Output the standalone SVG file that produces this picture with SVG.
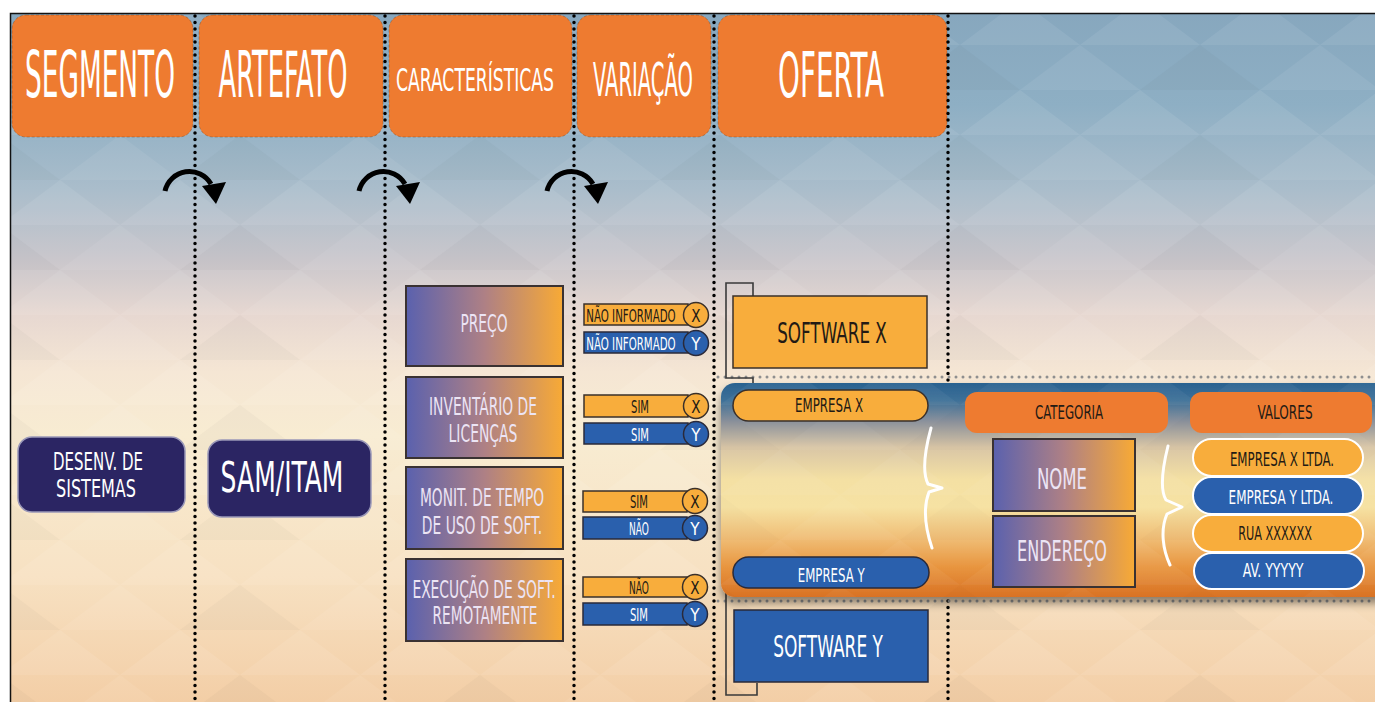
<svg xmlns="http://www.w3.org/2000/svg" width="1375" height="702" viewBox="0 0 1375 702">
  <defs>
    <linearGradient id="bg" x1="0" y1="0" x2="0" y2="702" gradientUnits="userSpaceOnUse">
      <stop offset="0" stop-color="#86a6bd"/>
      <stop offset="0.15" stop-color="#8eafc4"/>
      <stop offset="0.27" stop-color="#aabdcb"/>
      <stop offset="0.37" stop-color="#cac7cc"/>
      <stop offset="0.45" stop-color="#e7d8d1"/>
      <stop offset="0.53" stop-color="#f5e6d4"/>
      <stop offset="0.62" stop-color="#f8ecd2"/>
      <stop offset="0.82" stop-color="#f7e1c2"/>
      <stop offset="1" stop-color="#f3cea6"/>
    </linearGradient>
    <linearGradient id="panelGrad" x1="0" y1="383" x2="0" y2="597" gradientUnits="userSpaceOnUse">
      <stop offset="0" stop-color="#2a6290"/>
      <stop offset="0.08" stop-color="#3d7098"/>
      <stop offset="0.18" stop-color="#8c929c"/>
      <stop offset="0.3" stop-color="#d9c6a6"/>
      <stop offset="0.45" stop-color="#f4e0a3"/>
      <stop offset="0.58" stop-color="#f6e2a3"/>
      <stop offset="0.72" stop-color="#f0bf78"/>
      <stop offset="0.86" stop-color="#e8953f"/>
      <stop offset="1" stop-color="#d97224"/>
    </linearGradient>
    <linearGradient id="feat" x1="0" y1="0" x2="1" y2="0">
      <stop offset="0" stop-color="#5a61ae"/>
      <stop offset="0.5" stop-color="#ae8085"/>
      <stop offset="1" stop-color="#f8aa35"/>
    </linearGradient>
    <pattern id="tri" width="240" height="90" patternUnits="userSpaceOnUse">
      <path d="M0,45 L60,0 L120,45 Z M120,45 L180,0 L240,45 Z" fill="#ffffff" opacity="0.07"/>
      <path d="M60,90 L120,45 L180,90 Z" fill="#ffffff" opacity="0.06"/>
      <path d="M0,90 L0,45 L60,90 Z M240,45 L240,90 L180,90 Z" fill="#000000" opacity="0.025"/>
    </pattern>
    <filter id="shadow" x="-5%" y="-10%" width="110%" height="130%">
      <feDropShadow dx="0" dy="6" stdDeviation="5" flood-color="#000" flood-opacity="0.45"/>
    </filter>
    <g id="turn">
      <path d="M165,191 A25,25 0 0 1 211,184" fill="none" stroke="#000" stroke-width="5"/>
      <polygon points="202,186 226,182 216,204" fill="#000"/>
    </g>
    <style>
      .t { font-family: "DejaVu Sans Condensed", "DejaVu Sans", "Liberation Sans", sans-serif; text-anchor: middle;
           transform-box: fill-box; transform-origin: center; transform: scaleX(0.62); }
      .hdr { fill: #ee7b30; stroke: #6a3a18; stroke-width: 1; stroke-dasharray: 3 2; stroke-opacity: 0.35; }
      .htxt { fill: #ffffff; }
      .navy { fill: #2b2563; stroke: #9a98b8; stroke-width: 1.5; }
      .feat { fill: url(#feat); stroke: #3a3232; stroke-width: 2; }
      .ftxt { fill: #ece4f4; }
      .or { fill: #f8ad3c; stroke: #3a302a; stroke-width: 1.5; }
      .bl { fill: #2a60ad; stroke: #2a2a3a; stroke-width: 1.5; }
      .dk { fill: #231a14; }
      .wt { fill: #ffffff; }
      .vdots { stroke: #000; stroke-width: 3.5; stroke-linecap: round; stroke-dasharray: 0 6.5; fill: none; }
      .hdots { stroke: #8f8f8f; stroke-width: 3; stroke-linecap: round; stroke-dasharray: 0 7; fill: none; }
      .bracket { fill: none; stroke: #3a3a3a; stroke-width: 1.6; }
      .brace { fill: none; stroke: #ffffff; stroke-width: 3; stroke-linecap: round; stroke-linejoin: round; }
      .vorange { fill: #f8ad3c; stroke: #ffffff; stroke-width: 2; }
      .vblue { fill: #2a60ad; stroke: #ffffff; stroke-width: 2; }
    </style>
  </defs>

  <!-- background -->
  <rect x="0" y="0" width="1375" height="702" fill="#ffffff"/>
  <rect x="10" y="13" width="1365" height="689" fill="url(#bg)"/>
  <rect x="10" y="13" width="1365" height="689" fill="url(#tri)"/>
  <path d="M10.5,702 V13.5 H1375" fill="none" stroke="#111" stroke-width="1.5"/>

  <!-- column headers -->
  <g id="h-segmento">
    <rect class="hdr" x="12" y="15" width="181" height="122" rx="14"/>
    <text class="t htxt" x="100" y="97" font-size="64" textLength="242" lengthAdjust="spacingAndGlyphs">SEGMENTO</text>
  </g>
  <g id="h-artefato">
    <rect class="hdr" x="199" y="15" width="184" height="122" rx="14"/>
    <text class="t htxt" x="283" y="97" font-size="64" textLength="208" lengthAdjust="spacingAndGlyphs">ARTEFATO</text>
  </g>
  <g id="h-caracteristicas">
    <rect class="hdr" x="389" y="15" width="183" height="122" rx="14"/>
    <text class="t htxt" x="475" y="91" font-size="32" textLength="255" lengthAdjust="spacingAndGlyphs">CARACTERÍSTICAS</text>
  </g>
  <g id="h-variacao">
    <rect class="hdr" x="577" y="15" width="134" height="122" rx="14"/>
    <text class="t htxt" x="643" y="96" font-size="46" textLength="161" lengthAdjust="spacingAndGlyphs">VARIAÇÃO</text>
  </g>
  <g id="h-oferta">
    <rect class="hdr" x="718" y="15" width="229" height="122" rx="14"/>
    <text class="t htxt" x="831" y="97" font-size="62" textLength="171" lengthAdjust="spacingAndGlyphs">OFERTA</text>
  </g>

  <!-- column separators and flow arrows -->
  <g id="connectors">
    <line class="vdots" x1="195" y1="16" x2="195" y2="702"/>
    <line class="vdots" x1="385" y1="16" x2="385" y2="702"/>
    <line class="vdots" x1="574" y1="16" x2="574" y2="702"/>
    <line class="vdots" x1="714" y1="16" x2="714" y2="702"/>
    <line class="vdots" x1="948" y1="16" x2="948" y2="702"/>
    <line class="hdots" x1="718" y1="377" x2="1375" y2="377"/>
    <line class="hdots" x1="718" y1="601" x2="1375" y2="601"/>
    <use href="#turn"/>
    <use href="#turn" transform="translate(194,0)"/>
    <use href="#turn" transform="translate(382,0)"/>
    <!-- brackets linking software boxes to company pills -->
    <path class="bracket" d="M753,296 V283 H726 V378 H753 V384"/>
    <path class="bracket" d="M757,588 V591 H726 V695 H757 V683"/>
  </g>

  <!-- segment and artifact -->
  <g id="n-desenv">
    <rect class="navy" x="18" y="437" width="167" height="75" rx="14"/>
    <text class="t wt" x="98" y="470" font-size="25" textLength="145" lengthAdjust="spacingAndGlyphs">DESENV. DE</text>
    <text class="t wt" x="96" y="497" font-size="25" textLength="129" lengthAdjust="spacingAndGlyphs">SISTEMAS</text>
  </g>
  <g id="n-sam">
    <rect class="navy" x="208" y="440" width="163" height="77" rx="14"/>
    <text class="t wt" x="282" y="492" font-size="42" textLength="198" lengthAdjust="spacingAndGlyphs">SAM/ITAM</text>
  </g>

  <!-- characteristics -->
  <g id="c-preco">
    <rect class="feat" x="406" y="286" width="157" height="80"/>
    <text class="t ftxt" x="484" y="332" font-size="24" textLength="76" lengthAdjust="spacingAndGlyphs">PREÇO</text>
  </g>
  <g id="c-inventario">
    <rect class="feat" x="406" y="377" width="157" height="81"/>
    <text class="t ftxt" x="483" y="415" font-size="24" textLength="174" lengthAdjust="spacingAndGlyphs">INVENTÁRIO DE</text>
    <text class="t ftxt" x="483" y="442" font-size="24" textLength="111" lengthAdjust="spacingAndGlyphs">LICENÇAS</text>
  </g>
  <g id="c-monit">
    <rect class="feat" x="406" y="467" width="157" height="82"/>
    <text class="t ftxt" x="482" y="506" font-size="25" textLength="200" lengthAdjust="spacingAndGlyphs">MONIT. DE TEMPO</text>
    <text class="t ftxt" x="482" y="534" font-size="25" textLength="194" lengthAdjust="spacingAndGlyphs">DE USO DE SOFT.</text>
  </g>
  <g id="c-execucao">
    <rect class="feat" x="406" y="559" width="157" height="82"/>
    <text class="t ftxt" x="484" y="598" font-size="25" textLength="231" lengthAdjust="spacingAndGlyphs">EXECUÇÃO DE SOFT.</text>
    <text class="t ftxt" x="485" y="624" font-size="25" textLength="169" lengthAdjust="spacingAndGlyphs">REMOTAMENTE</text>
  </g>

  <!-- variations -->
  <g id="v-preco-x">
    <rect class="or" x="584" y="304" width="104" height="21"/>
    <circle class="or" cx="696" cy="315" r="12.5"/>
    <text class="t dk" x="631" y="322" font-size="17" textLength="144" lengthAdjust="spacingAndGlyphs">NÃO INFORMADO</text>
    <text class="t dk" x="696" y="322" font-size="18" textLength="15" lengthAdjust="spacingAndGlyphs">X</text>
  </g>
  <g id="v-preco-y">
    <rect class="bl" x="584" y="332" width="104" height="21"/>
    <circle class="bl" cx="696" cy="343" r="12.5"/>
    <text class="t wt" x="631" y="350" font-size="17" textLength="144" lengthAdjust="spacingAndGlyphs">NÃO INFORMADO</text>
    <text class="t wt" x="696" y="350" font-size="18" textLength="15" lengthAdjust="spacingAndGlyphs">Y</text>
  </g>
  <g id="v-inv-x">
    <rect class="or" x="584" y="395" width="104" height="22"/>
    <circle class="or" cx="696" cy="406" r="12.5"/>
    <text class="t dk" x="640" y="413" font-size="17" textLength="29" lengthAdjust="spacingAndGlyphs">SIM</text>
    <text class="t dk" x="696" y="413" font-size="18" textLength="15" lengthAdjust="spacingAndGlyphs">X</text>
  </g>
  <g id="v-inv-y">
    <rect class="bl" x="584" y="423" width="104" height="21"/>
    <circle class="bl" cx="696" cy="434" r="12.5"/>
    <text class="t wt" x="640" y="441" font-size="17" textLength="29" lengthAdjust="spacingAndGlyphs">SIM</text>
    <text class="t wt" x="696" y="441" font-size="18" textLength="15" lengthAdjust="spacingAndGlyphs">Y</text>
  </g>
  <g id="v-mon-x">
    <rect class="or" x="583" y="491" width="104" height="21"/>
    <circle class="or" cx="695" cy="501" r="12.5"/>
    <text class="t dk" x="639" y="508" font-size="17" textLength="29" lengthAdjust="spacingAndGlyphs">SIM</text>
    <text class="t dk" x="695" y="508" font-size="18" textLength="15" lengthAdjust="spacingAndGlyphs">X</text>
  </g>
  <g id="v-mon-y">
    <rect class="bl" x="583" y="517" width="104" height="22"/>
    <circle class="bl" cx="695" cy="528" r="12.5"/>
    <text class="t wt" x="639" y="535" font-size="17" textLength="32" lengthAdjust="spacingAndGlyphs">NÃO</text>
    <text class="t wt" x="695" y="535" font-size="18" textLength="15" lengthAdjust="spacingAndGlyphs">Y</text>
  </g>
  <g id="v-exe-x">
    <rect class="or" x="583" y="577" width="104" height="20"/>
    <circle class="or" cx="695" cy="587" r="12.5"/>
    <text class="t dk" x="639" y="594" font-size="17" textLength="32" lengthAdjust="spacingAndGlyphs">NÃO</text>
    <text class="t dk" x="695" y="594" font-size="18" textLength="15" lengthAdjust="spacingAndGlyphs">X</text>
  </g>
  <g id="v-exe-y">
    <rect class="bl" x="583" y="603" width="104" height="22"/>
    <circle class="bl" cx="695" cy="614" r="12.5"/>
    <text class="t wt" x="639" y="621" font-size="17" textLength="29" lengthAdjust="spacingAndGlyphs">SIM</text>
    <text class="t wt" x="695" y="621" font-size="18" textLength="15" lengthAdjust="spacingAndGlyphs">Y</text>
  </g>

  <!-- offers -->
  <g id="o-software-x">
    <rect class="or" x="733" y="296" width="194" height="72"/>
    <text class="t dk" x="832" y="343" font-size="28" textLength="177" lengthAdjust="spacingAndGlyphs">SOFTWARE X</text>
  </g>
  <g id="o-software-y">
    <rect class="bl" x="734" y="610" width="194" height="72"/>
    <text class="t wt" x="828" y="657" font-size="30" textLength="177" lengthAdjust="spacingAndGlyphs">SOFTWARE Y</text>
  </g>

  <!-- company detail panel -->
  <g id="panel">
    <rect x="721" y="383" width="670" height="214" rx="14" fill="url(#panelGrad)" filter="url(#shadow)"/>
    <rect x="721" y="383" width="670" height="214" rx="14" fill="url(#tri)" opacity="0.6"/>
  </g>
  <g id="p-empresa-x">
    <rect class="or" x="733" y="390" width="195" height="31" rx="15.5"/>
    <text class="t dk" x="829" y="412" font-size="19" textLength="110" lengthAdjust="spacingAndGlyphs">EMPRESA X</text>
  </g>
  <g id="p-empresa-y">
    <rect class="bl" x="733" y="557" width="196" height="31" rx="15.5"/>
    <text class="t wt" x="831" y="582" font-size="20" textLength="108" lengthAdjust="spacingAndGlyphs">EMPRESA Y</text>
  </g>
  <path class="brace" d="M931,428 C925,450 922,472 928,484 L942,488 L929,492 C922,510 926,530 932,548"/>
  <g id="p-categoria">
    <rect x="965" y="392" width="203" height="41" rx="12" fill="#ee7b30"/>
    <text class="t dk" x="1069" y="419" font-size="19" textLength="110" lengthAdjust="spacingAndGlyphs">CATEGORIA</text>
  </g>
  <g id="p-valores">
    <rect x="1190" y="392" width="182" height="41" rx="12" fill="#ee7b30"/>
    <text class="t dk" x="1285" y="419" font-size="19" textLength="89" lengthAdjust="spacingAndGlyphs">VALORES</text>
  </g>
  <g id="p-nome">
    <rect class="feat" x="993" y="439" width="142" height="72"/>
    <text class="t ftxt" x="1062" y="489" font-size="29" textLength="81" lengthAdjust="spacingAndGlyphs">NOME</text>
  </g>
  <g id="p-endereco">
    <rect class="feat" x="993" y="516" width="142" height="71"/>
    <text class="t ftxt" x="1062" y="561" font-size="29" textLength="145" lengthAdjust="spacingAndGlyphs">ENDEREÇO</text>
  </g>
  <path class="brace" d="M1168,446 C1162,470 1160,490 1166,500 L1182,507 L1167,514 C1160,530 1163,550 1170,565"/>
  <g id="p-val-1">
    <rect class="vorange" x="1193" y="439" width="170" height="37" rx="18.5"/>
    <text class="t dk" x="1282" y="466" font-size="20" textLength="168" lengthAdjust="spacingAndGlyphs">EMPRESA X LTDA.</text>
  </g>
  <g id="p-val-2">
    <rect class="vblue" x="1193" y="477" width="170" height="37" rx="18.5"/>
    <text class="t wt" x="1281" y="504" font-size="20" textLength="169" lengthAdjust="spacingAndGlyphs">EMPRESA Y LTDA.</text>
  </g>
  <g id="p-val-3">
    <rect class="vorange" x="1193" y="515" width="170" height="37" rx="18.5"/>
    <text class="t dk" x="1275" y="540" font-size="19" textLength="119" lengthAdjust="spacingAndGlyphs">RUA XXXXXX</text>
  </g>
  <g id="p-val-4">
    <rect class="vblue" x="1194" y="553" width="170" height="36" rx="18"/>
    <text class="t wt" x="1273" y="577" font-size="19" textLength="98" lengthAdjust="spacingAndGlyphs">AV. YYYYY</text>
  </g>
</svg>
